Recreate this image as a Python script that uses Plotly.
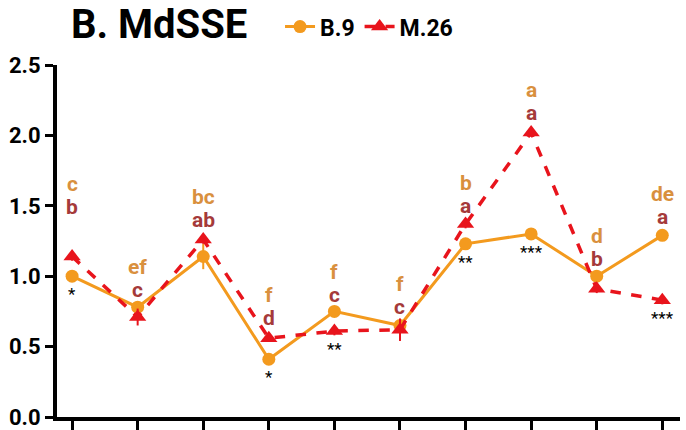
import plotly.graph_objects as go

# Ten sampling points along the x axis
categories = list(range(10))

# Mean MdSSE per point for each line
b9_values = [1.00, 0.78, 1.14, 0.41, 0.75, 0.65, 1.23, 1.30, 1.00, 1.29]
m26_values = [1.14, 0.71, 1.26, 0.56, 0.61, 0.62, 1.37, 2.02, 0.91, 0.83]

# Error (SE) per point
b9_err = [0.03, 0.03, 0.09, 0.02, 0.03, 0.03, 0.03, 0.02, 0.03, 0.02]
m26_err = [0.03, 0.06, 0.03, 0.02, 0.03, 0.08, 0.03, 0.03, 0.03, 0.03]

# Significance letters (B.9 on top, M.26 below it) and asterisks
b9_letters = ["c", "ef", "bc", "f", "f", "f", "b", "a", "d", "de"]
m26_letters = ["b", "c", "ab", "d", "c", "c", "a", "a", "b", "a"]
stars = ["*", "", "", "*", "**", "", "**", "***", "", "***"]

# Height (data units) at which each letter pair is anchored
letter_height = [1.49, 0.90, 1.40, 0.70, 0.87, 0.78, 1.50, 2.16, 1.12, 1.42]

ORANGE = "#f39a1e"
RED = "#e8141c"
ORANGE_TXT = "#d9903e"
RED_TXT = "#a53a3a"
FONT = "Roboto"

fig = go.Figure()

fig.add_trace(go.Scatter(
    x=categories, y=b9_values, name="B.9", mode="lines+markers",
    line=dict(color=ORANGE, width=3),
    marker=dict(symbol="circle", size=13, color=ORANGE),
    error_y=dict(type="data", array=b9_err, color=ORANGE, thickness=2, width=0),
))
fig.add_trace(go.Scatter(
    x=categories, y=m26_values, name="M.26", mode="lines+markers",
    line=dict(color=RED, width=3.5, dash="dash"),
    marker=dict(symbol="triangle-up", size=15, color=RED),
    error_y=dict(type="data", array=m26_err, color=RED, thickness=2, width=0),
))

for i, x in enumerate(categories):
    fig.add_annotation(x=x, y=letter_height[i], text=m26_letters[i], showarrow=False,
                       font=dict(family=FONT, size=21, color=RED_TXT, weight="bold"))
    fig.add_annotation(x=x, y=letter_height[i], yshift=23, text=b9_letters[i], showarrow=False,
                       font=dict(family=FONT, size=21, color=ORANGE_TXT, weight="bold"))
    if stars[i]:
        fig.add_annotation(x=x, y=min(b9_values[i], m26_values[i]), yshift=-18,
                           text=stars[i], showarrow=False,
                           font=dict(family=FONT, size=17, color="black"))

# Panel title
fig.add_annotation(xref="paper", yref="paper", x=0.02, y=1.115, xanchor="left",
                   yanchor="middle", text="B. MdSSE", showarrow=False,
                   font=dict(family=FONT, size=40, color="black", weight="bold"))

fig.update_layout(
    width=686, height=430,
    margin=dict(l=57, r=6, t=65, b=13, autoexpand=False),
    paper_bgcolor="white", plot_bgcolor="white",
    showlegend=True,
    legend=dict(orientation="h", x=0.358, y=1.17, xanchor="left", yanchor="top",
                font=dict(family=FONT, size=23, color="black", weight="bold"),
                itemwidth=30, tracegroupgap=0, bgcolor="rgba(0,0,0,0)"),
    font=dict(family=FONT),
)

fig.update_xaxes(range=[-0.23, 9.27], tickvals=categories, showticklabels=False,
                 automargin=False,
                 showgrid=False, zeroline=False, showline=True, linecolor="black",
                 linewidth=4, ticks="outside", ticklen=12, tickwidth=2.5,
                 tickcolor="black")
fig.update_yaxes(range=[0, 2.5], tickvals=[0, 0.5, 1.0, 1.5, 2.0, 2.5],
                 tickformat=".1f", showgrid=False, zeroline=False, showline=True,
                 automargin=False,
                 linecolor="black", linewidth=4, ticks="outside", ticklen=8,
                 tickwidth=3, tickcolor="black",
                 tickfont=dict(family=FONT, size=22, color="black", weight="bold"))

fig.write_html("out.html")
